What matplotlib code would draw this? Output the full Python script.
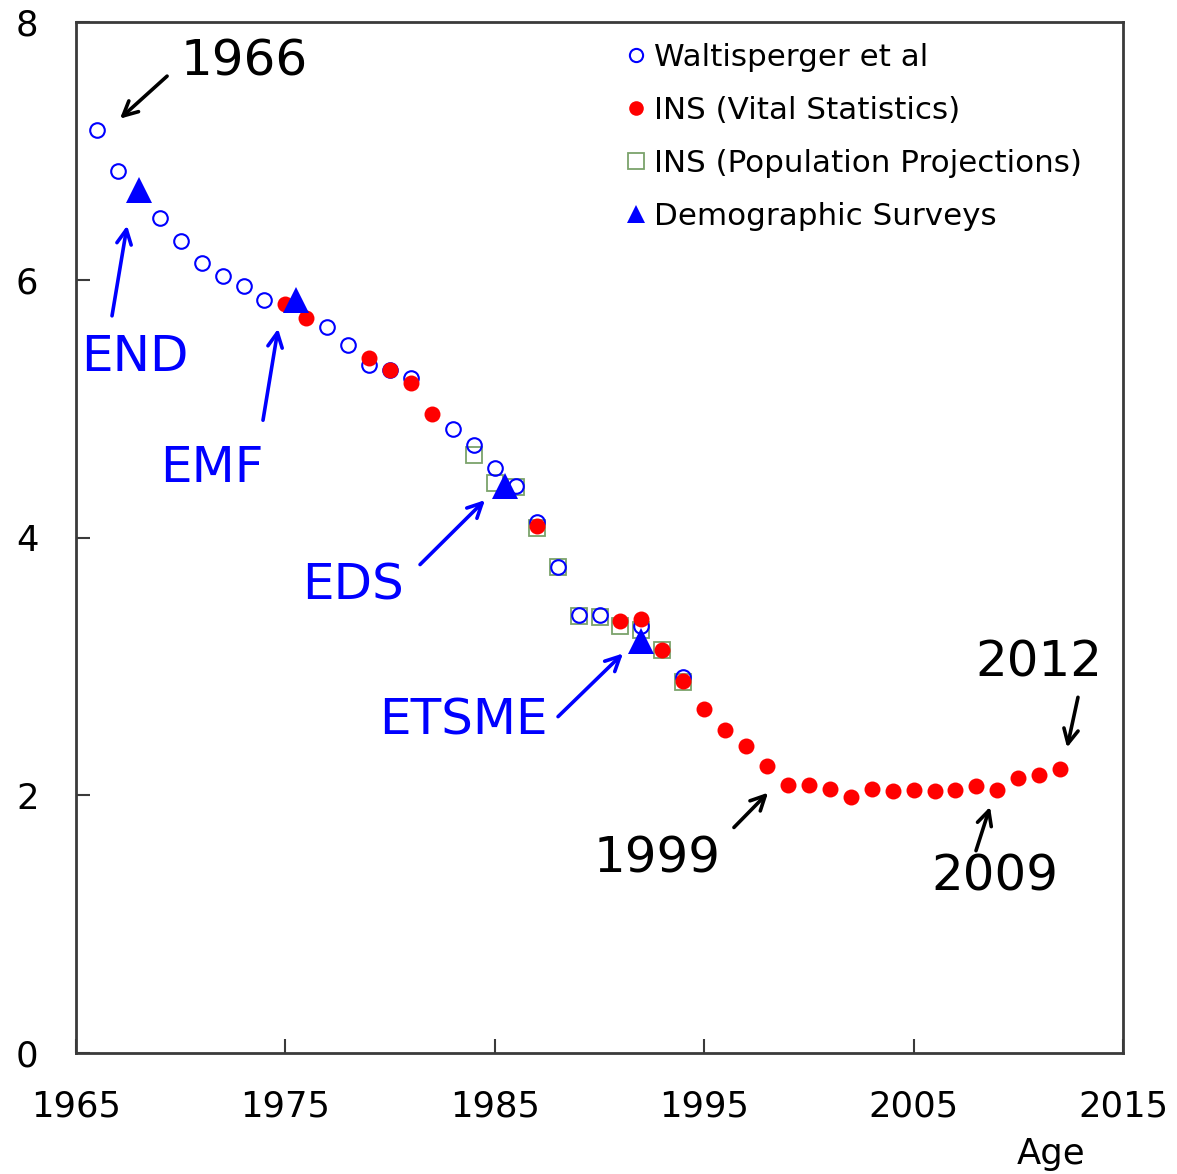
import matplotlib
matplotlib.use("Agg")
import matplotlib.pyplot as plt
from matplotlib.lines import Line2D

# ---------------- data ----------------
walt_years = [1966, 1967, 1969, 1970, 1971, 1972, 1973, 1974, 1977, 1978, 1979,
              1980, 1981, 1983, 1984, 1985, 1986, 1987, 1988, 1989, 1990, 1992, 1994]
walt_tfr = [7.16, 6.84, 6.48, 6.30, 6.13, 6.03, 5.95, 5.84, 5.63, 5.49, 5.34,
            5.30, 5.24, 4.84, 4.72, 4.54, 4.40, 4.12, 3.77, 3.40, 3.40, 3.31, 2.92]

ins_years = [1975, 1976, 1979, 1980, 1981, 1982, 1987, 1991, 1992, 1993, 1994,
             1995, 1996, 1997, 1998, 1999, 2000, 2001, 2002, 2003, 2004, 2005,
             2006, 2007, 2008, 2009, 2010, 2011, 2012]
ins_tfr = [5.81, 5.70, 5.39, 5.30, 5.20, 4.96, 4.09, 3.35, 3.37, 3.13, 2.89,
           2.67, 2.51, 2.38, 2.23, 2.08, 2.08, 2.05, 1.99, 2.05, 2.03, 2.04,
           2.03, 2.04, 2.07, 2.04, 2.13, 2.16, 2.20]

proj_years = [1984, 1985, 1986, 1987, 1988, 1989, 1990, 1991, 1992, 1993, 1994]
proj_tfr = [4.64, 4.42, 4.39, 4.07, 3.77, 3.39, 3.38, 3.31, 3.28, 3.13, 2.88]

survey_years = [1968, 1975.5, 1985.5, 1992]
survey_tfr = [6.70, 5.84, 4.40, 3.20]

series_labels = ["Waltisperger et al", "INS (Vital Statistics)",
                 "INS (Population Projections)", "Demographic Surveys"]

x_ticks = [1965, 1975, 1985, 1995, 2005, 2015]
y_ticks = [0, 2, 4, 6, 8]
x_label = "Age"

# survey annotations: label, text position, arrow tail, arrow tip
survey_notes = [
    ("END",   (1967.82, 5.40), (1966.72, 5.72), (1967.44, 6.42)),
    ("EMF",   (1971.49, 4.54), (1973.93, 4.91), (1974.65, 5.62)),
    ("EDS",   (1978.23, 3.63), (1981.43, 3.79), (1984.53, 4.29)),
    ("ETSME", (1983.48, 2.58), (1988.02, 2.61), (1991.12, 3.10)),
]
year_notes = [
    ("1966", (1973.02, 7.69), (1969.35, 7.58), (1967.10, 7.25)),
    ("1999", (1992.75, 1.51), (1996.42, 1.75), (1998.05, 2.02)),
    ("2009", (2008.89, 1.37), (2007.98, 1.57), (2008.65, 1.91)),
    ("2012", (2010.99, 3.03), (2012.85, 2.76), (2012.33, 2.37)),
]

# ---------------- styling ----------------
BLUE = "#0000FF"
RED = "#FF0000"
GREEN = "#7BA36B"
SPINE = "#3a3a3a"

plt.rcParams["font.family"] = ["DejaVu Sans"]

fig = plt.figure(figsize=(11.77, 11.74), dpi=100)
ax = fig.add_axes([76 / 1177, 1 - 1053 / 1174, (1123 - 76) / 1177, (1053 - 22) / 1174])

ax.plot(proj_years, proj_tfr, linestyle="none", marker="s", ms=12,
        mfc="none", mec=GREEN, mew=1.3, zorder=2)
ax.plot(walt_years, walt_tfr, linestyle="none", marker="o", ms=10.5,
        mfc="none", mec=BLUE, mew=1.5, zorder=3)
ax.plot(ins_years, ins_tfr, linestyle="none", marker="o", ms=11.5,
        mfc=RED, mec=RED, mew=0, zorder=4)
ax.plot(survey_years, survey_tfr, linestyle="none", marker="^", ms=19,
        mfc=BLUE, mec=BLUE, mew=0, zorder=5)

for label, tpos, tail, tip in survey_notes:
    ax.text(tpos[0], tpos[1], label, color=BLUE, fontsize=36,
            ha="center", va="center", zorder=6)
    ax.annotate("", xy=tip, xytext=tail,
                arrowprops=dict(arrowstyle="->", color=BLUE, lw=2.6,
                                mutation_scale=26, shrinkA=0, shrinkB=0),
                zorder=6)
for label, tpos, tail, tip in year_notes:
    ax.text(tpos[0], tpos[1], label, color="black", fontsize=36,
            ha="center", va="center", zorder=6)
    ax.annotate("", xy=tip, xytext=tail,
                arrowprops=dict(arrowstyle="->", color="black", lw=2.6,
                                mutation_scale=26, shrinkA=0, shrinkB=0),
                zorder=6)

ax.set_xlim(1965, 2015)
ax.set_ylim(0, 8)
ax.set_xticks(x_ticks)
ax.set_yticks(y_ticks)
ax.tick_params(axis="both", direction="in", length=10, width=1.5,
               color=SPINE, labelsize=25.5, labelcolor="black")
ax.tick_params(axis="x", pad=26)
ax.tick_params(axis="y", pad=27)
for sp in ax.spines.values():
    sp.set_color(SPINE)
    sp.set_linewidth(2)

ax.set_xlabel(x_label, fontsize=25.5)
ax.xaxis.set_label_coords(0.931, -0.098)
ax.xaxis.label.set_va("center")

handles = [
    Line2D([], [], linestyle="none", marker="o", ms=9.5, mfc="none", mec=BLUE, mew=1.5),
    Line2D([], [], linestyle="none", marker="o", ms=10.5, mfc=RED, mec=RED, mew=0),
    Line2D([], [], linestyle="none", marker="s", ms=11, mfc="none", mec=GREEN, mew=1.3),
    Line2D([], [], linestyle="none", marker="^", ms=13.5, mfc=BLUE, mec=BLUE, mew=0),
]
ax.legend(handles, series_labels, loc="upper right",
          bbox_to_anchor=(0.961, 0.980), frameon=False, fontsize=22.3,
          handlelength=0.6, handletextpad=0.3, labelspacing=0.78,
          borderpad=0, borderaxespad=0)

fig.savefig("out.png", dpi=100)
